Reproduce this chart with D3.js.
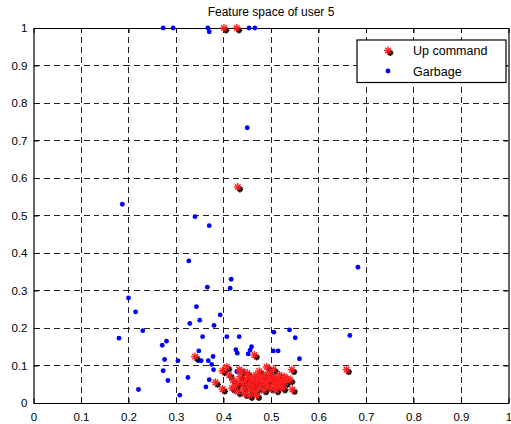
<!DOCTYPE html>
<html><head><meta charset="utf-8">
<script src="https://cdn.jsdelivr.net/npm/d3@7"></script>
<style>html,body{margin:0;padding:0;background:#fff;}svg{display:block;font-family:"Liberation Sans",Arial,sans-serif;}</style>
</head><body>
<script>
const title = "Feature space of user 5";
const seriesNames = ["Up command", "Garbage"];
const xTicks = [0,0.1,0.2,0.3,0.4,0.5,0.6,0.7,0.8,0.9,1];
const yTicks = [0,0.1,0.2,0.3,0.4,0.5,0.6,0.7,0.8,0.9,1];
const xTickLabels = ["0","0.1","0.2","0.3","0.4","0.5","0.6","0.7","0.8","0.9","1"];
const yTickLabels = ["0","0.1","0.2","0.3","0.4","0.5","0.6","0.7","0.8","0.9","1"];

const upX = [0.401,0.428,0.43,0.34,0.465,0.659,0.544,
 0.407,0.398,0.383,0.398,0.433,0.491,0.420,0.425,0.430,0.435,0.440,0.442,0.445,0.448,0.450,0.452,0.455,0.458,0.460,0.462,0.465,0.468,0.470,0.472,0.475,0.478,0.480,0.482,0.485,0.488,0.490,0.492,0.495,0.498,0.500,0.502,0.505,0.508,0.510,0.512,0.515,0.518,0.520,0.522,0.525,0.528,0.530,0.535,0.540,0.545,0.412,0.418,0.428,0.438,0.475,0.505,0.515,0.455,0.470];
const upY = [1,1,0.576,0.124,0.128,0.089,0.089,
 0.096,0.086,0.055,0.037,0.089,0.096,0.060,0.045,0.030,0.070,0.055,0.040,0.025,0.065,0.080,0.050,0.035,0.070,0.060,0.045,0.030,0.075,0.055,0.065,0.040,0.070,0.050,0.060,0.035,0.075,0.055,0.045,0.065,0.080,0.040,0.060,0.070,0.050,0.035,0.065,0.055,0.075,0.045,0.060,0.040,0.070,0.055,0.065,0.062,0.036,0.075,0.040,0.055,0.085,0.085,0.090,0.045,0.020,0.020];

const garX = [0.273,0.294,0.367,0.37,0.454,0.466,0.45,0.34,0.37,0.327,0.683,0.416,0.366,0.414,0.343,
 0.393,0.329,0.35,0.38,0.356,0.407,0.433,0.506,0.539,0.28,0.271,0.348,0.426,0.429,0.459,0.456,0.452,0.505,0.515,0.276,0.304,0.347,0.353,0.368,0.378,0.375,0.379,0.273,0.283,0.325,0.37,0.363,0.308,0.428,0.443,0.456,
 0.551,0.56,0.666,0.221,0.187,0.2,0.215,0.23,0.18];
const garY = [1,1,1,0.99,1,1,0.734,0.497,0.473,0.379,0.362,0.33,0.309,0.306,0.257,
 0.235,0.212,0.221,0.207,0.177,0.177,0.177,0.189,0.195,0.165,0.154,0.139,0.142,0.133,0.15,0.141,0.131,0.139,0.139,0.116,0.113,0.113,0.113,0.113,0.124,0.103,0.089,0.086,0.06,0.068,0.062,0.043,0.021,0.084,0.084,0.053,
 0.174,0.118,0.18,0.036,0.53,0.28,0.243,0.193,0.173];

const W = 511, H = 424;
const m = {l:33.5, r:2.5, t:28, b:21};
const svg = d3.select("body").append("svg").attr("width",W).attr("height",H);
const x = d3.scaleLinear().domain([0,1]).range([m.l, W-m.r]);
const y = d3.scaleLinear().domain([0,1]).range([H-m.b, m.t]);

// grid
const g = svg.append("g");
g.selectAll("line.vg").data(xTicks.slice(1,-1)).join("line")
 .attr("x1",d=>x(d)).attr("x2",d=>x(d)).attr("y1",y(0)).attr("y2",y(1))
 .attr("stroke","#222").attr("stroke-width",1).attr("stroke-dasharray","6,4").attr("shape-rendering","crispEdges");
g.selectAll("line.hg").data(yTicks.slice(1,-1)).join("line")
 .attr("y1",d=>y(d)).attr("y2",d=>y(d)).attr("x1",x(0)).attr("x2",x(1))
 .attr("stroke","#222").attr("stroke-width",1).attr("stroke-dasharray","6,4").attr("shape-rendering","crispEdges");

// axes
const fs = "11.5px";
const xa = svg.append("g").attr("transform",`translate(0,${y(0)})`)
 .call(d3.axisBottom(x).tickValues(xTicks).tickFormat((d,i)=>xTickLabels[i]).tickSizeInner(-5).tickSizeOuter(0).tickPadding(10));
const xt = svg.append("g").attr("transform",`translate(0,${y(1)})`)
 .call(d3.axisTop(x).tickValues(xTicks).tickFormat("").tickSizeInner(-5).tickSizeOuter(0));
const ya = svg.append("g").attr("transform",`translate(${x(0)},0)`)
 .call(d3.axisLeft(y).tickValues(yTicks).tickFormat((d,i)=>yTickLabels[i]).tickSizeInner(-5).tickSizeOuter(0).tickPadding(6));
const yr = svg.append("g").attr("transform",`translate(${x(1)},0)`)
 .call(d3.axisRight(y).tickValues(yTicks).tickFormat("").tickSizeInner(-5).tickSizeOuter(0));
[xa,xt,ya,yr].forEach(a=>{
  a.select(".domain").attr("stroke","#000").attr("stroke-width",1.2);
  a.selectAll(".tick line").attr("stroke","#000");
  a.selectAll("text").attr("font-size",fs).attr("fill","#000").attr("font-family","'Liberation Sans',Arial,sans-serif");
});

// markers
function star(sel, cx, cy, r, color, sw){
  const gg = sel.append("g").attr("transform",`translate(${cx},${cy})`);
  [[ -r,0,r,0],[0,-r,0,r],[-r*0.7,-r*0.7,r*0.7,r*0.7],[-r*0.7,r*0.7,r*0.7,-r*0.7]].forEach(s=>{
    gg.append("line").attr("x1",s[0]).attr("y1",s[1]).attr("x2",s[2]).attr("y2",s[3]).attr("stroke",color).attr("stroke-width",sw);
  });
}
const mk = svg.append("g");
// garbage (blue dots)
garX.forEach((v,i)=>{
  mk.append("circle").attr("cx",x(v)).attr("cy",y(garY[i])).attr("r",2.4).attr("fill","#0000ff");
});
// up command: black shadow then red star
const shadow = svg.append("g");
upX.forEach((v,i)=>{ star(shadow, x(v)+2.2, y(upY[i])+2.2, 3.2, "#000", 1.6); });
const reds = svg.append("g");
upX.forEach((v,i)=>{ star(reds, x(v), y(upY[i]), 4, "#ff2020", 1.4); });

// title
svg.append("text").attr("x",(x(0)+x(1))/2).attr("y",16).attr("text-anchor","middle")
 .attr("font-size","12px").attr("fill","#000").text(title);

// legend
const lg = svg.append("g");
lg.append("rect").attr("x",357).attr("y",40).attr("width",149).attr("height",42.5)
 .attr("fill","#fff").attr("stroke","#000").attr("stroke-width",1.2);
star(lg, 390.2, 52.7, 3.2, "#000", 1.6);
star(lg, 388, 50.5, 4, "#ff2020", 1.4);
lg.append("circle").attr("cx",388).attr("cy",71).attr("r",2.4).attr("fill","#0000ff");
lg.append("text").attr("x",413).attr("y",55).attr("font-size","12.5px").attr("fill","#000").text(seriesNames[0]);
lg.append("text").attr("x",413).attr("y",76).attr("font-size","12.5px").attr("fill","#000").text(seriesNames[1]);
</script>
</body></html>
